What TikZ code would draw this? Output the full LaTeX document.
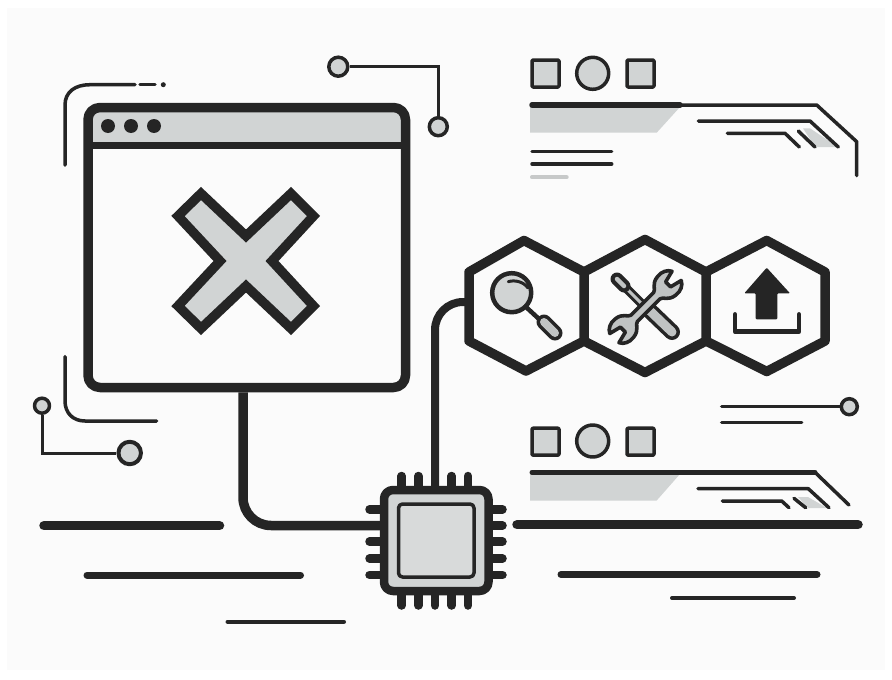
\documentclass[tikz,border=0pt]{standalone}
\definecolor{ink}{HTML}{252525}
\definecolor{mist}{HTML}{D1D4D4}
\definecolor{paper}{HTML}{FBFBFB}
\tikzset{
  every path/.append style={line join=round,line cap=round},
  ln/.style={draw=ink,line width=#1},
  winbox/.style={draw=ink,line width=9.5pt,rounded corners=12pt,minimum width=317.5pt,minimum height=280pt,inner sep=0pt},
  chipbody/.style={draw=ink,fill=mist,line width=8.5pt,rounded corners=9pt,minimum width=104.5pt,minimum height=101pt,inner sep=0pt},
  chipcore/.style={draw=ink,fill=mist!85!white,line width=3.5pt,rounded corners=4pt,minimum width=75.5pt,minimum height=73pt,inner sep=0pt},
  sq/.style={draw=ink,fill=mist,line width=3.5pt,rounded corners=1pt,minimum size=27pt,inner sep=0pt},
  ci/.style={circle,draw=ink,fill=mist,line width=#1,inner sep=0pt},
  hexline/.style={draw=ink,line width=9.5pt},
  icon/.style={draw=ink,line width=3.6pt,fill=mist!92!black},
}
\begin{document}
\begin{tikzpicture}[x=1pt,y=-1pt]
\useasboundingbox (0,0) rectangle (892,680);
\fill[white] (0,0) rectangle (892,680);
\fill[paper] (7,8) rectangle (885,670);

% window
\fill[mist] (90,145) -- (90,118) arc[start angle=180,end angle=90,radius=8pt] -- (396,110) arc[start angle=90,end angle=0,radius=8pt] -- (404,145) -- cycle;
\node[winbox] (win) at (246.75,247.5) {};
\draw[ln=7pt,line cap=butt] (88,145.5) -- (405,145.5);
\node[circle,fill=ink,minimum size=14pt,inner sep=0pt] (d1) at (108,126) {};
\node[circle,fill=ink,minimum size=14pt,inner sep=0pt] (d2) at (131,126) {};
\node[circle,fill=ink,minimum size=14pt,inner sep=0pt] (d3) at (154,126) {};

% big X
\draw[draw=ink,fill=mist,line width=9.5pt,line join=miter]
 (201,193.5) -- (246,236) -- (291,193.5) -- (313.5,216) -- (272,261) -- (313.5,306) -- (291,328.5)
 -- (246,286) -- (201,328.5) -- (178,306) -- (220,261) -- (178,216) -- cycle;

% top-left ornament
\draw[ln=3.5pt] (65,165) -- (65,105) .. controls (65,92) and (75,84.7) .. (90,84.7) -- (135,84.7);
\draw[ln=3.5pt] (140,84.7) -- (155,84.7);
\fill[ink] (163.3,84.7) circle[radius=2.5pt];

% top connector with circles
\node[ci=3.5pt,minimum size=19pt] (ct1) at (338.3,66.7) {};
\node[ci=3.5pt,minimum size=18pt] (ct2) at (438.3,126.7) {};
\draw[ln=3pt,line cap=butt,line join=miter] (ct1) -| (ct2);

% bottom-left ornament
\draw[ln=3.5pt] (65,356.7) -- (65,401) .. controls (65,413) and (73,421) .. (85,421) -- (156.7,421);
\node[ci=3.5pt,minimum size=15pt] (cb1) at (42,405.7) {};
\node[ci=4pt,minimum size=22.5pt] (cb2) at (129.7,453) {};
\draw[ln=3pt,line cap=butt,line join=miter] (cb1) |- (cb2);

% rules
\draw[ln=9.5pt] (44,525.7) -- (219.5,525.7);
\draw[ln=7pt] (87,575) -- (300.5,575);
\draw[ln=4pt] (227.5,621.7) -- (344,621.7);
\draw[ln=9.5pt] (517,524.7) -- (858,524.7);
\draw[ln=7pt] (561,574.5) -- (817,574.5);
\draw[ln=4pt] (672,598) -- (794,598);

% chip pins
\foreach \px in {401.7,418.3,451.7,468}{
  \draw[ln=8.5pt] (\px,476) -- (\px,490);
}
\foreach \px in {401.7,418.3,435,451.7,468}{
  \draw[ln=8.5pt] (\px,591) -- (\px,605.5);
}
\foreach \py in {509.3,525.5,541.7,558.5,575}{
  \draw[ln=8.5pt] (369.5,\py) -- (384,\py);
  \draw[ln=8.5pt] (488,\py) -- (502.5,\py);
}
\node[chipbody] (chip) at (436.25,540.5) {};
\node[chipcore] (core) at (436.25,540.5) {};

% hexagons
\coordinate (hexin) at (469,302);
\draw[hexline] (469,272) -- (524,240.5) -- (584,272) -- (584,341) -- (526,371) -- (469,341) -- cycle;
\draw[hexline] (584,272) -- (645,239.5) -- (706,272) -- (706,341) -- (645,372.5) -- (584,341);
\draw[hexline] (706,272) -- (766.7,240.5) -- (825,272) -- (825,341) -- (766.7,371.5) -- (706,341);

% connectors
\draw[ln=9.5pt,line cap=butt,rounded corners=28pt] ([xshift=-3.75pt]win.south) |- ([yshift=15pt]chip.west);
\draw[ln=8pt,line cap=butt,rounded corners=28pt] ([xshift=-1.25pt]chip.north) |- (hexin);

% magnifier
\draw[ln=4.5pt,line cap=butt] (526,307) -- (539,319);
\draw[ln=15pt] (544,322) -- (555,333);
\draw[draw=mist!92!black,line width=8pt] (544,322) -- (555,333);
\node[ci=4.5pt,minimum size=39pt] (lens) at (511.7,292.7) {};
\draw[ln=3pt] (508.3,281.7) .. controls (515,279.5) and (524,282) .. (528,288);

% screwdriver
\draw[ln=9pt] (622,284) -- (650,312);
\draw[draw=mist!92!black,line width=3pt] (624,286) -- (650,312);
\draw[ln=13pt] (617,279) -- (624,286);
\draw[draw=mist!92!black,line width=4.5pt] (617,279) -- (624,286);
\draw[ln=16pt] (648,309) -- (672,332);
\draw[draw=mist!92!black,line width=9pt] (648,309) -- (672,332);

% wrench
\begin{scope}[shift={(645.5,307)},rotate=45]
\draw[icon]
 (16,-4.5) .. controls (20,-5) and (20,-12) .. (30,-13) .. controls (36,-14) and (42,-11) .. (44,-6.5)
 -- (32,-3.5) -- (32,3.5) -- (44,6.5) .. controls (42,11) and (36,14) .. (30,13)
 .. controls (20,12) and (20,5) .. (16,4.5) -- (-16,4.5)
 .. controls (-20,5) and (-20,12) .. (-30,13) .. controls (-36,14) and (-42,11) .. (-44,6.5)
 -- (-32,3.5) -- (-32,-3.5) -- (-44,-6.5) .. controls (-42,-11) and (-36,-14) .. (-30,-13)
 .. controls (-20,-12) and (-20,-5) .. (-16,-4.5) -- cycle;
\end{scope}

% upload
\fill[ink,rounded corners=1pt] (766.7,267.7) -- (790,293.3) -- (777.3,293.3) -- (777.3,319.3) -- (755.7,319.3) -- (755.7,293.3) -- (744.3,293.3) -- cycle;
\draw[ln=4.5pt] (735,314.3) -- (735,331.7) -- (799,331.7) -- (799,314.3);

% top-right group
\node[sq] (s1) at (545.5,73.5) {};
\node[ci=3.5pt,minimum size=32pt] (s2) at (592.7,73.3) {};
\node[sq] (s3) at (640.5,73.5) {};
\fill[mist] (530,107) -- (680,107) -- (656.7,132.7) -- (530,132.7) -- cycle;
\draw[ln=5.5pt] (532,105) -- (680,105);
\draw[ln=3.5pt] (680,105) -- (816.7,105) -- (856.7,141.7) -- (856.7,175.7);
\fill[mist] (803,128.3) -- (810,128.3) -- (838,147) -- (815,147) -- cycle;
\draw[ln=3.5pt] (698.3,121) -- (810,121) -- (838.3,147);
\draw[ln=3.5pt] (727.3,133.3) -- (785,133.3) -- (799.3,147);
\draw[ln=3.5pt] (798.3,131) -- (815,147);
\draw[ln=3.5pt] (532,151.7) -- (611.7,151.7);
\draw[ln=3.5pt] (532,164) -- (611.7,164);
\draw[draw=mist!95!black,line width=4pt] (532,177.3) -- (566.7,177.3);

% lower-right group
\node[ci=3.5pt,minimum size=16pt] (r1) at (849.3,406.7) {};
\draw[ln=3.5pt] (721.7,406.7) -- (r1);
\draw[ln=3.5pt] (721.7,422.3) -- (801.7,422.3);
\node[sq] (q1) at (545.5,441.7) {};
\node[ci=3.5pt,minimum size=32pt] (q2) at (592.7,441) {};
\node[sq] (q3) at (640.5,441.7) {};
\fill[mist] (530,474) -- (680,474) -- (656.7,500.5) -- (530,500.5) -- cycle;
\draw[ln=5pt] (532,472.3) -- (815,472.3);
\draw[ln=3.5pt] (815,472.3) -- (849,505);
\fill[mist] (798,497) -- (808,497) -- (827,508) -- (808,508) -- cycle;
\draw[ln=3.5pt] (698,488.7) -- (808.3,488.7) -- (829,507.7);
\draw[ln=3.5pt] (722.3,501) -- (781.7,501) -- (789,507.7);
\draw[ln=3.5pt] (794,498.3) -- (805.7,507.7);
\end{tikzpicture}
\end{document}
